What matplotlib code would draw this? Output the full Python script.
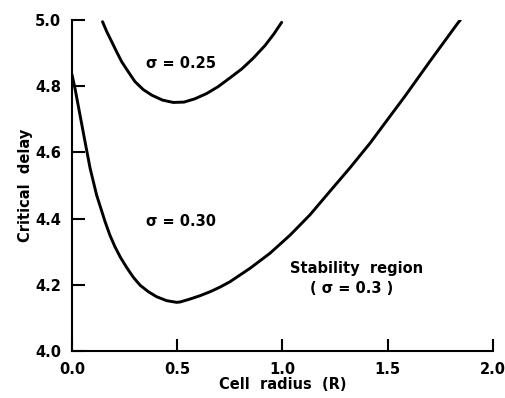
import numpy as np
import matplotlib
matplotlib.use("Agg")
import matplotlib.pyplot as plt

# values
radius_030 = [0.0, 0.014, 0.038, 0.062, 0.086, 0.117, 0.157, 0.18, 0.204, 0.23,
              0.26, 0.291, 0.323, 0.363, 0.402, 0.45, 0.497, 0.513, 0.561, 0.608,
              0.656, 0.703, 0.75, 0.846, 0.94, 1.036, 1.13, 1.226, 1.32, 1.416,
              1.50, 1.582, 1.70, 1.832, 1.845]
delay_030 = [4.835, 4.794, 4.713, 4.632, 4.552, 4.471, 4.391, 4.35, 4.315, 4.283,
             4.252, 4.223, 4.199, 4.179, 4.164, 4.152, 4.147, 4.148, 4.157, 4.167,
             4.179, 4.193, 4.209, 4.25, 4.295, 4.35, 4.411, 4.483, 4.553, 4.628,
             4.70, 4.77, 4.875, 4.99, 5.0]

radius_025 = [0.145, 0.165, 0.189, 0.212, 0.236, 0.268, 0.299, 0.338, 0.379, 0.43,
              0.481, 0.532, 0.584, 0.64, 0.695, 0.75, 0.806, 0.86, 0.917, 0.958,
              0.996]
delay_025 = [4.995, 4.965, 4.934, 4.904, 4.874, 4.843, 4.814, 4.79, 4.773, 4.758,
             4.751, 4.752, 4.762, 4.778, 4.799, 4.825, 4.852, 4.884, 4.923, 4.957,
             4.993]

xticks = [0.0, 0.5, 1.0, 1.5, 2.0]
yticks = [4.0, 4.2, 4.4, 4.6, 4.8, 5.0]

plt.rcParams['font.family'] = ['DejaVu Sans']
plt.rcParams['font.weight'] = 'bold'
fs = 10.5

fig = plt.figure(figsize=(5.06, 3.98), dpi=100)
ax = fig.add_axes([0.1423, 0.1181, 0.832, 0.8316])

ax.plot(radius_030, delay_030, color='black', lw=2.1, solid_capstyle='round',
        solid_joinstyle='round')
ax.plot(radius_025, delay_025, color='black', lw=2.1, solid_capstyle='round',
        solid_joinstyle='round')

ax.text(0.52, 4.869, 'σ = 0.25', ha='center', va='center', fontsize=fs, fontweight='bold')
ax.text(0.52, 4.39, 'σ = 0.30', ha='center', va='center', fontsize=fs, fontweight='bold')
ax.text(1.354, 4.25, 'Stability  region', ha='center', va='center', fontsize=fs, fontweight='bold')
ax.text(1.33, 4.19, '( σ = 0.3 )', ha='center', va='center', fontsize=fs, fontweight='bold')

ax.set_xlim(0, 2.0)
ax.set_ylim(4.0, 5.0)
ax.set_xticks(xticks)
ax.set_xticklabels([f'{v:.1f}' for v in xticks])
ax.set_yticks(yticks)
ax.set_yticklabels([f'{v:.1f}' for v in yticks])

for side in ['top', 'right']:
    ax.spines[side].set_visible(False)
for side in ['left', 'bottom']:
    ax.spines[side].set_linewidth(1.5)

ax.tick_params(direction='in', length=9, width=1.5, labelsize=fs, pad=8)
for lab in ax.get_xticklabels() + ax.get_yticklabels():
    lab.set_fontweight('bold')

ax.set_xlabel('Cell  radius  (R)', fontsize=fs, fontweight='bold', labelpad=0)
ax.set_ylabel('Critical  delay', fontsize=fs, fontweight='bold', labelpad=1)

fig.savefig('out.png', dpi=100)
